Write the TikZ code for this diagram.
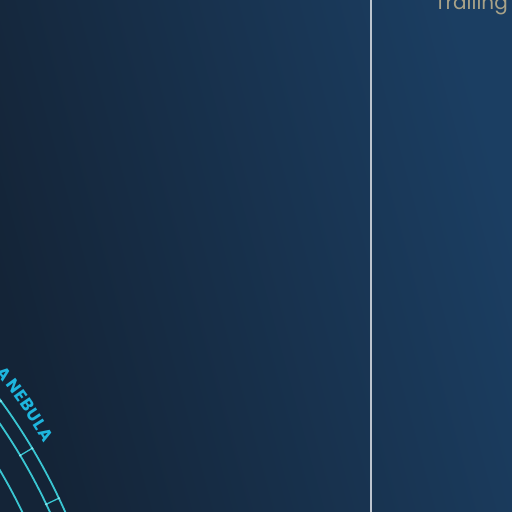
\documentclass[tikz,border=0pt]{standalone}
\usepackage{fontspec}
\setmainfont{Poppins}
\usepackage{xcolor}
\usepackage{tikz}
\usetikzlibrary{calc}
\definecolor{SkyDark}{RGB}{20, 36, 55}
\definecolor{SkyLight}{RGB}{27, 62, 98}
\definecolor{OrbitCyan}{RGB}{58, 198, 210}
\definecolor{NebulaCyan}{RGB}{30, 182, 222}
\definecolor{DotCyan}{RGB}{130, 228, 236}
\definecolor{DividerGrey}{RGB}{188, 196, 206}
\definecolor{LabelSand}{RGB}{168, 162, 136}

\begin{document}
\begin{tikzpicture}[x=1pt, y=1pt,
    orbit/.style={draw=OrbitCyan, line width=1.8pt},
    orbittick/.style={draw=OrbitCyan, line width=1.3pt},
    orbitdot/.style={fill=DotCyan},
    nebletter/.style={text=NebulaCyan, font=\fontsize{17}{17}\selectfont\bfseries, inner sep=0pt}]
    \useasboundingbox (0,0) rectangle (512,512);
    \clip (0,0) rectangle (512,512);
    % sky
    \shade[top color=SkyLight, bottom color=SkyDark, shading angle=-75] (0,0) rectangle (512,512);
    % divider
    \draw[DividerGrey, line width=1.8pt] (371,0) -- (371,512);
    \node[anchor=base east, text=LabelSand, font=\fontsize{20}{20}\selectfont, inner sep=0pt] (trail) at (508,502) {Trailing};
    % rings round the nebula
    \coordinate (ctr) at (-484,-244);
    \foreach \r in {601,587,562}
      \draw[orbit] ($(ctr)+(45:\r)$) arc (45:15:\r);
    \foreach \a in {36.2,30.8,25.4}{
      \draw[orbittick] ($(ctr)+(\a:587)$) -- ($(ctr)+(\a:601)$);
      \fill[orbitdot] ($(ctr)+(\a:587)$) circle (1.3);
      \fill[orbitdot] ($(ctr)+(\a:601)$) circle (1.3);
    }
    % label on the outer ring
    \foreach \ch/\ang [count=\i] in {A/38.05,N/36.6,E/35.53,B/34.46,U/33.39,L/32.32,A/31.25}
      \node[nebletter, rotate=\ang-90] (neb\i) at ($(ctr)+(\ang:620)$) {\ch};
\end{tikzpicture}
\end{document}
